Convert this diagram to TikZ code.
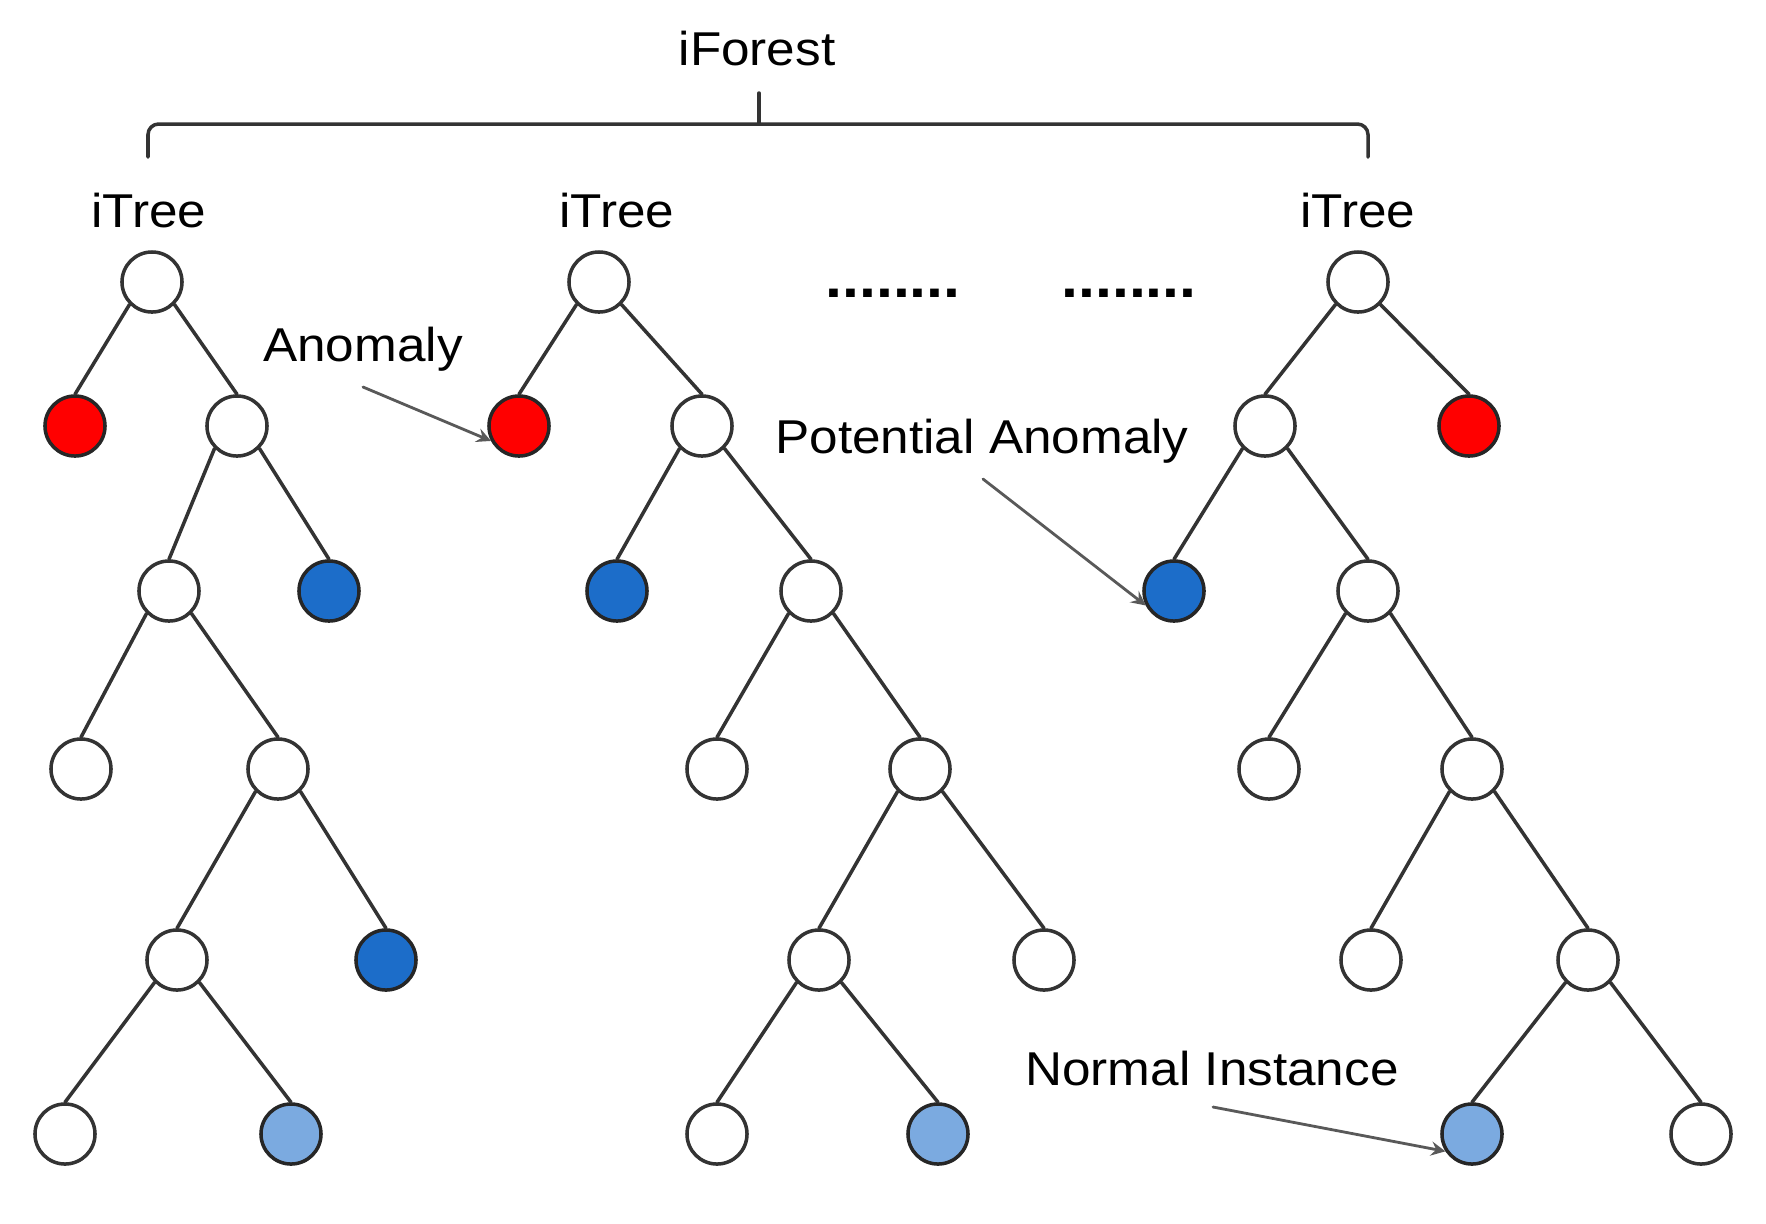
\documentclass[tikz,border=0pt]{standalone}
\usepackage{fontspec}
\setmainfont{Liberation Sans}[FakeStretch=1.08]
\usetikzlibrary{arrows}
\definecolor{anomred}{HTML}{FF0000}
\definecolor{anomblue}{HTML}{1C6DC9}
\definecolor{paleblue}{HTML}{7BAAE0}
\definecolor{edgegray}{HTML}{333333}

\begin{document}
\begin{tikzpicture}[x=0.01cm,y=-0.01cm,line cap=round,line join=round,>=stealth,
  vtx/.style={circle,draw=edgegray,line width=1pt,minimum size=0.6cm,inner sep=0pt,fill=white},
  redvtx/.style={vtx,fill=anomred,draw=black!85},
  bluevtx/.style={vtx,fill=anomblue,draw=black!85},
  palevtx/.style={vtx,fill=paleblue,draw=black!85},
  lbl/.style={font=\fontsize{13.5}{16}\selectfont},
  branch/.style={draw=edgegray,line width=1pt},
  pointer/.style={->,draw=black!65,line width=0.8pt}]
\useasboundingbox (0,0) rectangle (1766,1223);

\node[lbl] (forest) at (757,49) {iForest};
\draw [edgegray,line width=1pt,rounded corners=3pt] (148,157)-- (148,124)-- (1368,124)-- (1368,157);
\draw [edgegray,line width=1pt] (759,124)-- (759,93);

\node[lbl] (tree1) at (149,211) {iTree};
\node[lbl] (tree2) at (617,211) {iTree};
\node[lbl] (tree3) at (1358,211) {iTree};
\node[font=\fontsize{16}{18}\bfseries] (dots1) at (893,293) {........};
\node[font=\fontsize{16}{18}\bfseries] (dots2) at (1129,293) {........};

% first tree
\node[vtx] (a1) at (152,282) {};
\node[redvtx] (a2) at (75,426) {};
\node[vtx] (a3) at (237,426) {};
\node[vtx] (a4) at (169,591) {};
\node[bluevtx] (a5) at (329,591) {};
\node[vtx] (a6) at (81,769) {};
\node[vtx] (a7) at (278,769) {};
\node[vtx] (a8) at (177,960) {};
\node[bluevtx] (a9) at (386,960) {};
\node[vtx] (a10) at (65,1134) {};
\node[palevtx] (a11) at (291,1134) {};

% second tree
\node[vtx] (b1) at (599,282) {};
\node[redvtx] (b2) at (519,426) {};
\node[vtx] (b3) at (702,426) {};
\node[bluevtx] (b4) at (617,591) {};
\node[vtx] (b5) at (811,591) {};
\node[vtx] (b6) at (717,769) {};
\node[vtx] (b7) at (920,769) {};
\node[vtx] (b8) at (819,960) {};
\node[vtx] (b9) at (1044,960) {};
\node[vtx] (b10) at (717,1134) {};
\node[palevtx] (b11) at (938,1134) {};

% last tree
\node[vtx] (c1) at (1358,282) {};
\node[vtx] (c2) at (1265,426) {};
\node[redvtx] (c3) at (1469,426) {};
\node[bluevtx] (c4) at (1174,591) {};
\node[vtx] (c5) at (1368,591) {};
\node[vtx] (c6) at (1269,769) {};
\node[vtx] (c7) at (1472,769) {};
\node[vtx] (c8) at (1371,960) {};
\node[vtx] (c9) at (1588,960) {};
\node[palevtx] (c10) at (1472,1134) {};
\node[vtx] (c11) at (1701,1134) {};

\foreach \p/\c in {a1/a2,a3/a4,a4/a6,a7/a8,a8/a10,b1/b2,b3/b4,b5/b6,b7/b8,b8/b10,c1/c2,c2/c4,c5/c6,c7/c8,c9/c10}
  \draw[branch] (\p.south west)-- (\c.north);
\foreach \p/\c in {a1/a3,a3/a5,a4/a7,a7/a9,a8/a11,b1/b3,b3/b5,b5/b7,b7/b9,b8/b11,c1/c3,c2/c5,c5/c7,c7/c9,c9/c11}
  \draw[branch] (\p.south east)-- (\c.north);

\node[lbl] (anomlbl) at (363,349) {Anomaly};
\node[lbl] (potlbl) at (982,441) {Potential Anomaly};
\node[lbl] (normlbl) at (1212,1069) {Normal Instance};
\coordinate (anomtail) at (363,387);
\coordinate (pottail) at (983,479);
\coordinate (normtail) at (1213,1107);
\draw[pointer] (anomtail)-- (b2.208);
\draw[pointer] (pottail)-- (c4.207);
\draw[pointer] (normtail)-- (c10.213);
\end{tikzpicture}
\end{document}
